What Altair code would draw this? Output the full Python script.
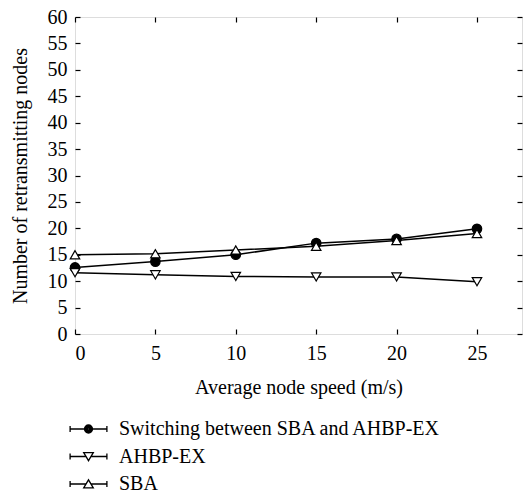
import altair as alt
import pandas as pd

speeds = [0, 5, 10, 15, 20, 25]
switching = [12.6, 13.7, 15.0, 17.2, 18.0, 19.9]
ahbp = [11.6, 11.2, 10.9, 10.8, 10.8, 9.9]
sba = [15.0, 15.2, 15.9, 16.6, 17.7, 19.0]
series_names = ["Switching between SBA and AHBP-EX", "AHBP-EX", "SBA"]
x_ticks = [0, 5, 10, 15, 20, 25]
y_ticks = list(range(0, 61, 5))

rows = []
for name, vals in zip(series_names, [switching, ahbp, sba]):
    for s, v in zip(speeds, vals):
        rows.append({"speed": s, "nodes": v, "series": name})
df = pd.DataFrame(rows)

W, H = 447, 317
FONT = "Liberation Serif"
FS = 20

xscale = alt.Scale(domain=[0, 27.8], nice=False, zero=False)
yscale = alt.Scale(domain=[0, 60], nice=False, zero=False)

x_label_axis = alt.Axis(orient="bottom", values=x_ticks, grid=False, domain=False,
                        ticks=False, tickSize=0, labelPadding=9, labelFont=FONT,
                        labelFontSize=FS, labelColor="black",
                        title="Average node speed (m/s)", titleFont=FONT,
                        titleFontSize=FS, titleFontWeight="normal", titleColor="black",
                        titlePadding=14)
x_tick_bottom = alt.Axis(orient="top", offset=-H, values=x_ticks, grid=False,
                         domain=False, labels=False, ticks=True, tickSize=5,
                         tickColor="black", tickWidth=1.2, title=None)
x_tick_top = alt.Axis(orient="bottom", offset=-H, values=x_ticks, grid=False,
                      domain=False, labels=False, ticks=True, tickSize=5,
                      tickColor="black", tickWidth=1.2, title=None)

y_label_axis = alt.Axis(orient="left", values=y_ticks, grid=False, domain=False,
                        ticks=False, tickSize=0, labelPadding=8, labelFont=FONT,
                        labelFontSize=FS, labelColor="black",
                        title="Number of retransmitting nodes", titleFont=FONT,
                        titleFontSize=FS, titleFontWeight="normal", titleColor="black",
                        titlePadding=17)
y_tick_left = alt.Axis(orient="right", offset=-W, values=y_ticks, grid=False,
                       domain=False, labels=False, ticks=True, tickSize=5,
                       tickColor="black", tickWidth=1.2, title=None)
y_tick_right = alt.Axis(orient="left", offset=-W, values=y_ticks, grid=False,
                        domain=False, labels=False, ticks=True, tickSize=5,
                        tickColor="black", tickWidth=1.2, title=None)

base = alt.Chart(df)

lines = base.mark_line(color="black", strokeWidth=1.5).encode(
    x=alt.X("speed:Q", scale=xscale, axis=x_label_axis),
    y=alt.Y("nodes:Q", scale=yscale, axis=y_label_axis),
    detail="series:N",
)

marker_specs = [
    (series_names[0], "circle", "black", x_tick_bottom, y_tick_left),
    (series_names[1], "triangle-down", "white", None, None),
    (series_names[2], "triangle-up", "white", None, None),
]
marker_layers = []
for name, shp, fillc, xa, ya in marker_specs:
    marker_layers.append(
        base.transform_filter(alt.datum.series == name).mark_point(
            shape=shp, filled=True, fill=fillc, stroke="black",
            strokeWidth=1.2, size=90, opacity=1
        ).encode(
            x=alt.X("speed:Q", scale=xscale, axis=xa),
            y=alt.Y("nodes:Q", scale=yscale, axis=ya),
        )
    )

# legend glyphs (stroked only): capped horizontal bar with marker;
# the solid circle is built from concentric rings
bars = "M-2.3,0L{a},0M{b},0L2.3,0M-2.3,-0.38L-2.3,0.38M2.3,-0.38L2.3,0.38"
ring = "M-{r},0A{r},{r},0,1,0,{r},0A{r},{r},0,1,0,-{r},0Z"
circle_path = bars.format(a=-0.56, b=0.56) + "".join(
    ring.format(r=r) for r in [0.5, 0.38, 0.26, 0.14, 0.04])
tri_down_path = bars.format(a=-0.33, b=0.33) + "M-0.6,-0.48L0.6,-0.48L0,0.52Z"
tri_up_path = bars.format(a=-0.33, b=0.33) + "M-0.6,0.48L0,-0.52L0.6,0.48Z"

legend_layer = base.mark_point(filled=False, color="black", stroke="black",
                               strokeWidth=1.3, size=256, opacity=0).encode(
    x=alt.X("speed:Q", scale=xscale, axis=x_tick_top),
    y=alt.Y("nodes:Q", scale=yscale, axis=y_tick_right),
    shape=alt.Shape("series:N", scale=alt.Scale(domain=series_names,
                    range=[circle_path, tri_down_path, tri_up_path]),
                    legend=alt.Legend(orient="none", legendX=3.5, legendY=402, title=None,
                                      labelFont=FONT, labelFontSize=FS, labelColor="black",
                                      labelLimit=500, symbolSize=256,
                                      symbolStrokeColor="black",
                                      symbolStrokeWidth=1.3, symbolOpacity=1,
                                      labelOffset=20.5, rowPadding=7.5, padding=0)),
)

chart = alt.layer(lines, *marker_layers, legend_layer).resolve_axis(
    x="independent", y="independent"
).properties(
    width=W, height=H,
    padding={"left": 75, "top": 17, "right": 3, "bottom": 159},
    autosize=alt.AutoSizeParams(type="none"),
    background="white",
).configure_view(
    stroke="black", strokeWidth=1.2
).configure_axis(
    labelFont=FONT, titleFont=FONT
).configure_legend(
    labelFont=FONT
).configure(font=FONT)

chart.save("out.html", embed_options={"renderer": "svg", "actions": False})
